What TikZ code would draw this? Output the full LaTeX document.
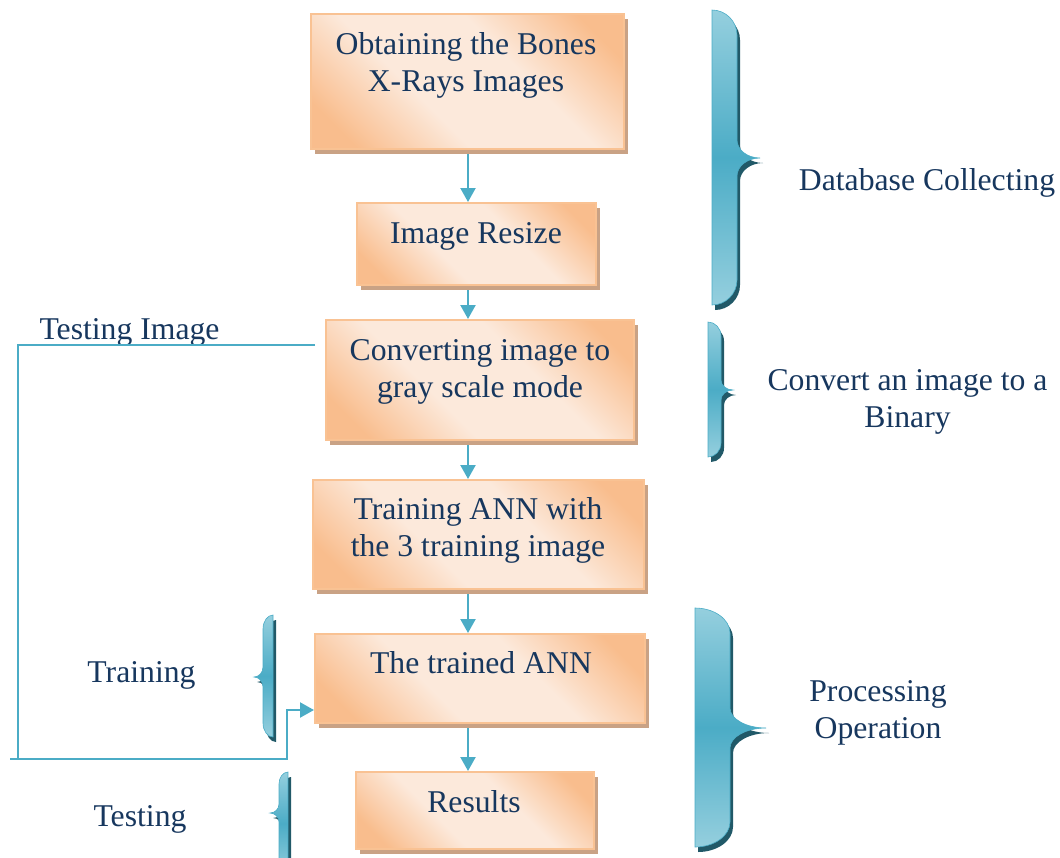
\documentclass[tikz,border=0pt]{standalone}
\usepackage{fontspec}
\setmainfont{Liberation Serif}
\usetikzlibrary{arrows.meta,shadows}
\definecolor{txt}{HTML}{17375E}
\definecolor{boxor}{HTML}{F9BD8D}
\definecolor{boxlt}{HTML}{FCE9DB}
\definecolor{boxline}{HTML}{F9C293}
\definecolor{boxshadow}{HTML}{C9A285}
\definecolor{aqua}{HTML}{4BACC6}
\definecolor{aqualt}{HTML}{95CFDE}
\definecolor{aquadk}{HTML}{215968}
\pgfdeclareverticalshading{boxshade}{100bp}{color(0bp)=(boxor); color(22bp)=(boxor); color(40bp)=(boxlt); color(60bp)=(boxlt); color(78bp)=(boxor); color(100bp)=(boxor)}
\pgfdeclarelayer{bg}
\pgfsetlayers{bg,main}
% S = straight edge x, C = curved edge x, T, B = top, bottom, M = tip y, P = tip x, r = corner, c = cusp
\newcommand\bracepath[8]{(#1,#3) .. controls ({#1+0.55*(#2-#1)},#3) and (#2,{#3+0.45*#7}) .. (#2,{#3+#7})
  -- (#2,{#5-#8}) .. controls (#2,{#5-0.45*#8}) and ({#6-0.55*(#6-#2)},#5) .. (#6,#5)
  .. controls ({#6-0.55*(#6-#2)},#5) and (#2,{#5+0.45*#8}) .. (#2,{#5+#8})
  -- (#2,{#4-#7}) .. controls (#2,{#4-0.45*#7}) and ({#1+0.55*(#2-#1)},#4) .. (#1,#4) -- cycle}
\newcommand\drawbrace[8]{%
  \fill[aquadk, shift={(3,5)}] \bracepath{#1}{#2}{#3}{#4}{#5}{#6}{#7}{#8};
  \shade[top color=aqualt, bottom color=aqualt, middle color=aqua, draw=aqua, line width=0.6pt] \bracepath{#1}{#2}{#3}{#4}{#5}{#6}{#7}{#8};}
\begin{document}
\begin{tikzpicture}[x=1pt, y=-1pt,
  font=\fontsize{31.7}{37}\selectfont,
  box/.style={draw=boxline, line width=1.5pt, shade, shading=boxshade, shading angle=-45,
    general shadow={fill=boxshadow, shadow xshift=4pt, shadow yshift=-5pt},
    inner sep=0pt, anchor=north west},
  lbl/.style={text=txt, inner sep=0pt, align=center},
  conn/.style={draw=aqua, line width=2.2pt},
  arr/.style={conn, -{Triangle[length=14pt,width=15pt]}}]
\useasboundingbox (0,0) rectangle (1060,857);
\clip (0,0) rectangle (1060,857);

% boxes
\node[box, minimum width=313, minimum height=135] (b1) at (310,13) {};
\node[box, minimum width=239, minimum height=82] (b2) at (356,202) {};
\node[box, minimum width=308, minimum height=120] (b3) at (325,319) {};
\node[box, minimum width=331, minimum height=109] (b4) at (312,479) {};
\node[box, minimum width=330, minimum height=89] (b5) at (314,633) {};
\node[box, minimum width=238, minimum height=77] (b6) at (355,771) {};

% box texts
\node[lbl] (t1) at (466,65.1) {Obtaining the Bones\\X-Rays Images};
\node[lbl, anchor=base] (t2) at (476,243) {Image Resize};
\node[lbl] (t3) at (480,371.6) {Converting image to\\gray scale mode};
\node[lbl] (t4) at (478,530.6) {Training ANN with\\the 3 training image};
\node[lbl, anchor=base] (t5) at (481,673) {The trained ANN};
\node[lbl, anchor=base] (t6) at (474,812) {Results};

% side texts
\node[lbl, anchor=base] (l1) at (927,190) {Database Collecting};
\node[lbl] (l2) at (907.5,401.5) {Convert an image to a\\Binary};
\node[lbl] (l3) at (878,712.5) {Processing\\Operation};
\node[lbl, anchor=base] (l4) at (141.5,682) {Training};
\node[lbl, anchor=base] (l5) at (140,826) {Testing};
\node[lbl, anchor=base] (l6) at (129.5,339) {Testing Image};

% connectors
\coordinate (ax) at (468,0);
\coordinate (tiA) at (315,345);
\coordinate (tiB) at (18,345);
\coordinate (tiC) at (18,759);
\coordinate (tiD) at (10,759);
\coordinate (tiE) at (287,759);
\coordinate (tiF) at (287,710);
\begin{pgfonlayer}{bg}
\draw[arr] (b1.south -| ax) -- (b2.north -| ax);
\draw[arr] (b2.south -| ax) -- (b3.north -| ax);
\draw[arr] (b3.south -| ax) -- (b4.north -| ax);
\draw[arr] (b4.south -| ax) -- (b5.north -| ax);
\draw[arr] (b5.south -| ax) -- (b6.north -| ax);
\end{pgfonlayer}
\draw[conn] (tiA) -- (tiB) -- (tiC);
\draw[arr] (tiD) -- (tiE) -- (tiF) -- (b5.west |- tiF);

% braces
\drawbrace{712}{737}{10}{305}{158}{760}{25}{18}
\drawbrace{708}{721}{322}{457}{390}{733}{14}{10}
\drawbrace{695}{730}{608}{847}{728}{766}{25}{20}
\drawbrace{273}{263}{615}{737}{677}{254}{14}{10}
\drawbrace{288}{279}{772}{875}{813}{270}{12}{9}
\end{tikzpicture}
\end{document}
